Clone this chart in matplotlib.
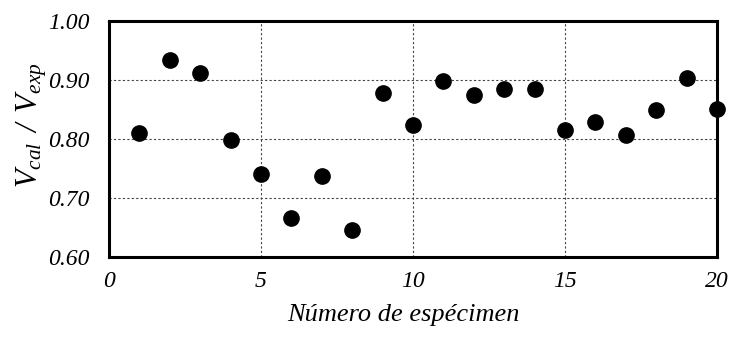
import matplotlib
matplotlib.use("Agg")
import matplotlib.pyplot as plt

specimen = list(range(1, 21))
ratio = [0.811, 0.934, 0.912, 0.799, 0.741, 0.666, 0.738, 0.645, 0.878, 0.823,
         0.899, 0.875, 0.885, 0.885, 0.815, 0.828, 0.806, 0.850, 0.903, 0.851]
xticks = [0, 5, 10, 15, 20]
yticks = [0.60, 0.70, 0.80, 0.90, 1.00]

plt.rcParams['font.family'] = ['Liberation Serif', 'DejaVu Serif']
plt.rcParams['mathtext.fontset'] = 'custom'
plt.rcParams['mathtext.it'] = 'Liberation Serif:italic'
plt.rcParams['mathtext.rm'] = 'Liberation Serif:italic'

fig = plt.figure(figsize=(7.33, 3.43), dpi=100)
ax = fig.add_axes([109/733, 1 - 257/343, (717-109)/733, (257-21)/343])

ax.scatter(specimen, ratio, s=11**2, color='black', zorder=3, clip_on=False)
ax.set_xlim(0, 20)
ax.set_ylim(0.60, 1.00)
ax.set_xticks(xticks)
ax.set_yticks(yticks)
ax.set_xticklabels([str(t) for t in xticks], fontsize=17, style='italic')
ax.set_yticklabels([f"{t:.2f}" for t in yticks], fontsize=17, style='italic')
ax.tick_params(length=0)
ax.tick_params(axis='y', pad=14)
ax.tick_params(axis='x', pad=10)
ax.grid(True, color='#444444', linestyle=(0, (2, 2)), linewidth=0.8)
for s in ax.spines.values():
    s.set_linewidth(2.2)
    s.set_zorder(4)
ax.set_xlabel('Número de espécimen', fontsize=19, style='italic')
ax.xaxis.set_label_coords((403.5 - 109) / 608, (257 - 304) / 236)
ax.set_ylabel(r'$V_{cal}\ \,/\ \,V_{exp}$', fontsize=22)
ax.yaxis.set_label_coords((49 - 109) / 608, (257 - 125) / 236)

fig.savefig('out.png', dpi=100)
